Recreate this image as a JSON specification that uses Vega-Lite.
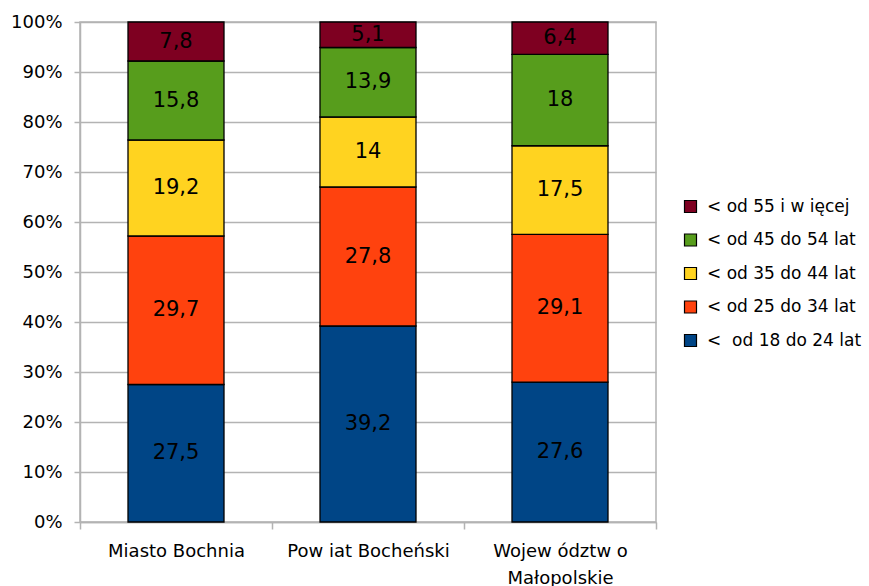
{
  "$schema": "https://vega.github.io/schema/vega-lite/v6.json",
  "width": 576,
  "height": 500,
  "autosize": {"type": "none"},
  "padding": {"left": 80, "top": 22, "right": 213, "bottom": 64},
  "background": "white",
  "config": {
    "view": {"stroke": "#b3b3b3", "strokeWidth": 1.5},
    "font": "DejaVu Sans"
  },
  "data": {
    "values": [
      {"region": "Miasto Bochnia", "group": "<\u00a0 od 18 do 24 lat", "order": 1, "value": 27.5, "label": "27,5"},
      {"region": "Miasto Bochnia", "group": "< od 25 do 34 lat", "order": 2, "value": 29.7, "label": "29,7"},
      {"region": "Miasto Bochnia", "group": "< od 35 do 44 lat", "order": 3, "value": 19.2, "label": "19,2"},
      {"region": "Miasto Bochnia", "group": "< od 45 do 54 lat", "order": 4, "value": 15.8, "label": "15,8"},
      {"region": "Miasto Bochnia", "group": "< od 55 i w ięcej", "order": 5, "value": 7.8, "label": "7,8"},
      {"region": "Pow iat Bocheński", "group": "<\u00a0 od 18 do 24 lat", "order": 1, "value": 39.2, "label": "39,2"},
      {"region": "Pow iat Bocheński", "group": "< od 25 do 34 lat", "order": 2, "value": 27.8, "label": "27,8"},
      {"region": "Pow iat Bocheński", "group": "< od 35 do 44 lat", "order": 3, "value": 14, "label": "14"},
      {"region": "Pow iat Bocheński", "group": "< od 45 do 54 lat", "order": 4, "value": 13.9, "label": "13,9"},
      {"region": "Pow iat Bocheński", "group": "< od 55 i w ięcej", "order": 5, "value": 5.1, "label": "5,1"},
      {"region": "Wojew ództw o Małopolskie", "group": "<\u00a0 od 18 do 24 lat", "order": 1, "value": 27.6, "label": "27,6"},
      {"region": "Wojew ództw o Małopolskie", "group": "< od 25 do 34 lat", "order": 2, "value": 29.1, "label": "29,1"},
      {"region": "Wojew ództw o Małopolskie", "group": "< od 35 do 44 lat", "order": 3, "value": 17.5, "label": "17,5"},
      {"region": "Wojew ództw o Małopolskie", "group": "< od 45 do 54 lat", "order": 4, "value": 18, "label": "18"},
      {"region": "Wojew ództw o Małopolskie", "group": "< od 55 i w ięcej", "order": 5, "value": 6.4, "label": "6,4"}
    ]
  },
  "transform": [
    {"stack": "value", "groupby": ["region"], "sort": [{"field": "order", "order": "ascending"}], "offset": "normalize", "as": ["y0", "y1"]},
    {"calculate": "(datum.y0 + datum.y1) / 2", "as": "ymid"}
  ],
  "encoding": {
    "x": {
      "field": "region",
      "type": "nominal",
      "sort": ["Miasto Bochnia", "Pow iat Bocheński", "Wojew ództw o Małopolskie"],
      "scale": {"paddingInner": 0, "paddingOuter": 0},
      "axis": {
        "title": null,
        "labelAngle": 0,
        "labelFontSize": 18,
        "labelColor": "black",
        "labelPadding": 13,
        "labelLineHeight": 27,
        "labelExpr": "datum.label == 'Wojew ództw o Małopolskie' ? ['Wojew ództw o', 'Małopolskie'] : datum.label",
        "tickBand": "extent",
        "tickSize": 7,
        "tickColor": "#b3b3b3",
        "tickWidth": 1.5,
        "domainColor": "#b3b3b3",
        "domainWidth": 1.5
      }
    }
  },
  "layer": [
    {
      "mark": {"type": "bar", "stroke": "black", "strokeWidth": 1.3, "width": {"band": 0.5}},
      "encoding": {
        "y": {
          "field": "y0",
          "type": "quantitative",
          "scale": {"domain": [0, 1]},
          "axis": {
            "title": null,
            "format": ".0%",
            "values": [0, 0.1, 0.2, 0.3, 0.4, 0.5, 0.6, 0.7, 0.8, 0.9, 1],
            "labelFontSize": 18,
            "labelColor": "black",
            "labelPadding": 12,
            "tickSize": 6,
            "tickColor": "#b3b3b3",
            "tickWidth": 1.5,
            "gridColor": "#b3b3b3",
            "gridWidth": 1.5,
            "domainColor": "#b3b3b3",
            "domainWidth": 1.5
          }
        },
        "y2": {"field": "y1"},
        "color": {
          "field": "group",
          "type": "nominal",
          "scale": {
            "domain": ["< od 55 i w ięcej", "< od 45 do 54 lat", "< od 35 do 44 lat", "< od 25 do 34 lat", "<\u00a0 od 18 do 24 lat"],
            "range": ["#7e0021", "#579d1c", "#ffd320", "#ff420e", "#004586"]
          },
          "legend": {
            "title": null,
            "orient": "none",
            "legendX": 602,
            "legendY": 176,
            "symbolType": "square",
            "symbolSize": 144,
            "symbolStrokeColor": "black",
            "symbolStrokeWidth": 1.2,
            "labelFontSize": 17,
            "labelColor": "black",
            "labelOffset": 8,
            "rowPadding": 15.5
          }
        }
      }
    },
    {
      "mark": {"type": "text", "fontSize": 21, "color": "black"},
      "encoding": {
        "y": {"field": "ymid", "type": "quantitative"},
        "text": {"field": "label"}
      }
    }
  ]
}
